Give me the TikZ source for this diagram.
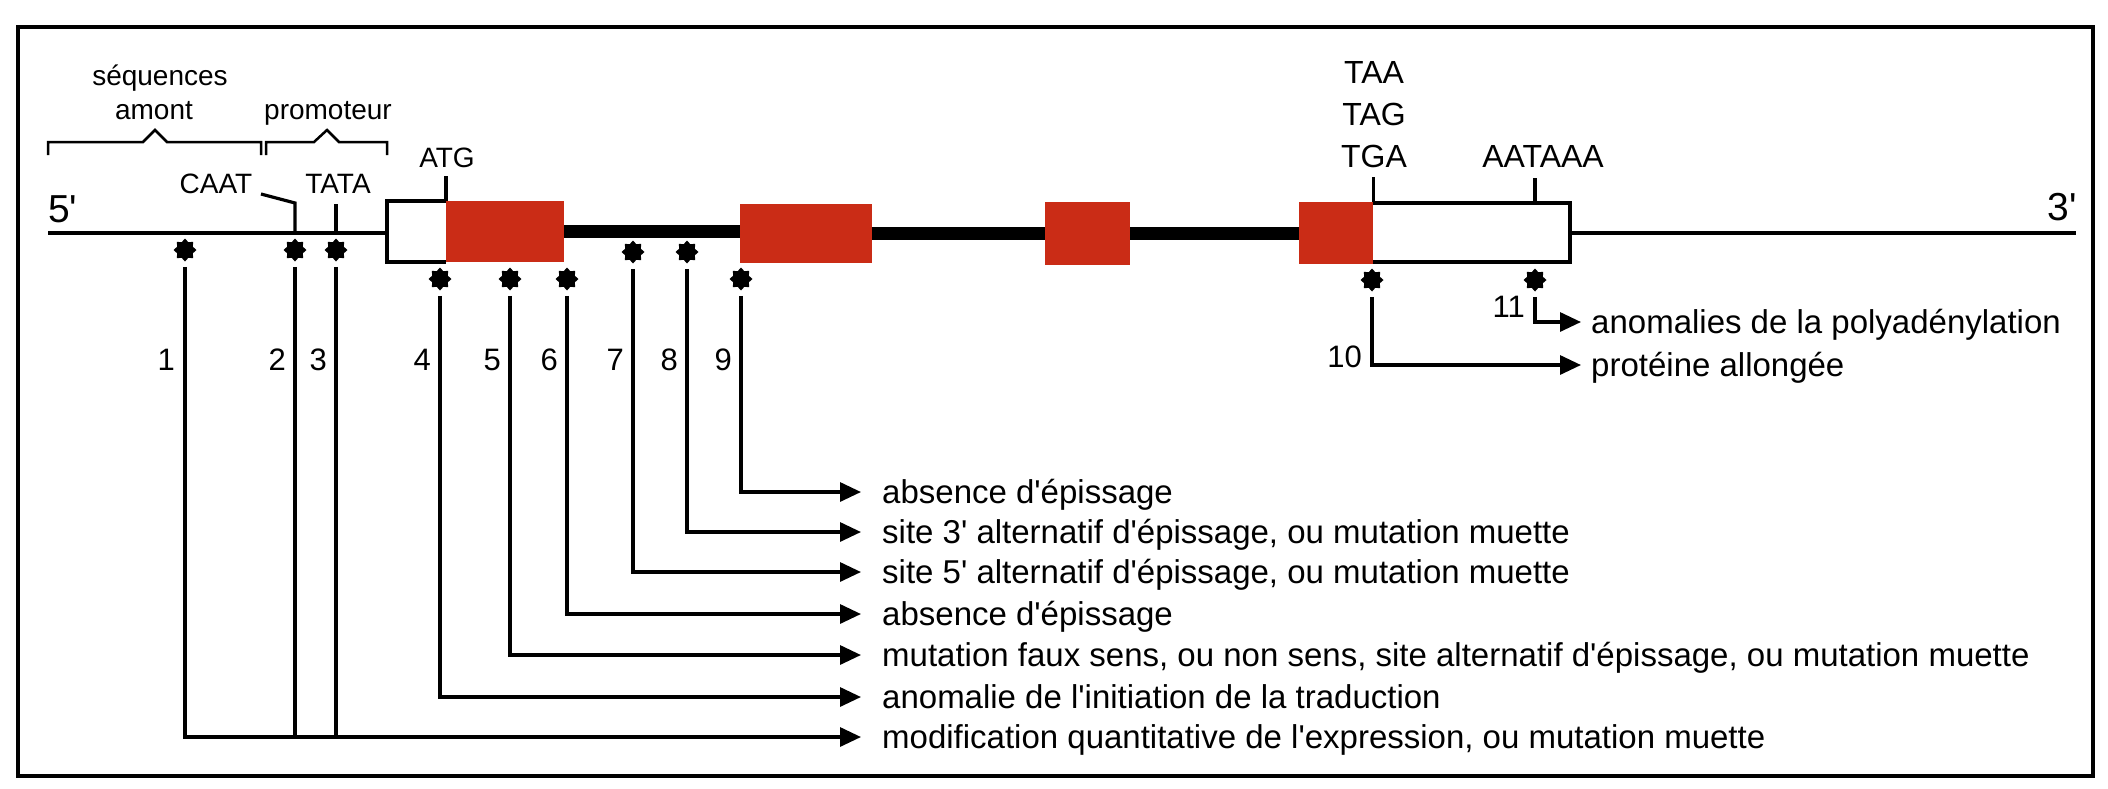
\documentclass[tikz,border=0pt]{standalone}
\usepackage{fontspec}
\setmainfont{Liberation Sans}[Ligatures=TeXOff]
\usetikzlibrary{arrows.meta,shapes.geometric}
\definecolor{exonred}{RGB}{202,44,22}
\begin{document}
\begin{tikzpicture}[x=1pt,y=-1pt,
  dna/.style={line width=4pt},
  boxline/.style={line width=4pt,line join=miter},
  intron/.style={line width=13pt},
  lead/.style={line width=3.2pt},
  arr/.style={lead,-{Triangle[length=21pt,width=19pt]}},
  exon/.style={rectangle,fill=exonred,inner sep=0pt,anchor=north west},
  utr/.style={rectangle,inner sep=0pt,anchor=north west},
  mut/.style={star,star points=8,star point ratio=1.35,minimum size=23pt,fill=black,inner sep=0pt},
  brace/.style={line width=2.5pt,line join=miter},
  labl/.style={font=\fontsize{28}{34}\selectfont,inner sep=0pt,anchor=base},
  labr/.style={font=\fontsize{32}{38}\selectfont,inner sep=0pt,anchor=base},
  num/.style={font=\fontsize{31}{37}\selectfont,inner sep=0pt,anchor=base east},
  big/.style={font=\fontsize{39}{45}\selectfont,inner sep=0pt},
  res/.style={font=\fontsize{33}{40}\selectfont,inner sep=0pt,anchor=base west}]
\useasboundingbox (0,0) rectangle (2108,788);
\fill[white] (0,0) rectangle (2108,788);
% frame
\draw[line width=3.5pt] (18,27) rectangle (2093,776);

% gene structure
\node[utr,minimum width=59pt,minimum height=61pt] (utr5) at (387,201) {};
\node[exon,minimum width=118pt,minimum height=61pt] (ex1) at (446,201) {};
\node[exon,minimum width=132pt,minimum height=59pt] (ex2) at (740,204) {};
\node[exon,minimum width=85pt,minimum height=63pt] (ex3) at (1045,202) {};
\node[exon,minimum width=74pt,minimum height=62pt] (ex4) at (1299,202) {};
\node[utr,minimum width=197pt,minimum height=59pt] (utr3) at (1373,203) {};
\coordinate (end5) at (48,233);
\coordinate (end3) at (2076,233);
\draw[dna] (end5) -- (end5 -| utr5.west);
\draw[dna] (utr3.east |- end3) -- (end3);
\draw[boxline] (utr5.north east) -- (utr5.north west) -- (utr5.south west) -- (utr5.south east);
\draw[boxline] (utr3.north west) -- (utr3.north east) -- (utr3.south east) -- (utr3.south west);
\draw[intron] (ex1.east) -- (ex1.east -| ex2.west);
\draw[intron] (ex2.east) -- (ex2.east -| ex3.west);
\draw[intron] (ex3.east) -- (ex3.east -| ex4.west);

% end labels
\node[big,anchor=base west] (p5) at (48,222) {5'};
\node[big,anchor=base east] (p3) at (2077,220) {3'};

% braces and upper labels
\draw[brace] (48,155) -- (48,142) -- (143,142) -- (155,130) -- (167,142) -- (261,142) -- (261,155);
\draw[brace] (266,155) -- (266,142) -- (314,142) -- (327,130) -- (339,142) -- (387,142) -- (387,155);
\node[labl] (seq) at (160,85) {séquences};
\node[labl] (amont) at (154,119) {amont};
\node[labl] (promo) at (328,119) {promoteur};
\node[labl] (caat) at (216,193) {CAAT};
\node[labl] (tata) at (338,193) {TATA};
\node[labl] (atg) at (447,167) {ATG};
\node[labr] (taa) at (1374,83) {TAA};
\node[labr] (tag) at (1374,125) {TAG};
\node[labr] (tga) at (1374,167) {TGA};
\node[labr] (aataaa) at (1543,167) {AATAAA};

% ticks
\coordinate (caatb) at (295,233);
\coordinate (tatab) at (336,233);
\coordinate (polya) at (1535,203);
\draw[lead,line join=miter] (caatb) -- ++(0,-30) -- ++(-34,-9);
\draw[lead] (tatab) -- ++(0,-29);
\draw[lead] (ex1.north west) -- ++(0,-25);
\draw[lead] (ex4.north east) -- ++(0,-25);
\draw[lead] (polya) -- ++(0,-25);

% mutation sites
\node[mut] (s1) at (185,250) {};
\node[mut] (s2) at (295,250) {};
\node[mut] (s3) at (336,250) {};
\node[mut] (s4) at (440,279) {};
\node[mut] (s5) at (510,279) {};
\node[mut] (s6) at (567,279) {};
\node[mut] (s7) at (633,252) {};
\node[mut] (s8) at (687,252) {};
\node[mut] (s9) at (741,279) {};
\node[mut] (s10) at (1372,280) {};
\node[mut] (s11) at (1535,280) {};

% numbers
\node[num] (n1) at (175,370) {1};
\node[num] (n2) at (286,370) {2};
\node[num] (n3) at (327,370) {3};
\node[num] (n4) at (431,370) {4};
\node[num] (n5) at (501,370) {5};
\node[num] (n6) at (558,370) {6};
\node[num] (n7) at (624,370) {7};
\node[num] (n8) at (678,370) {8};
\node[num] (n9) at (732,370) {9};
\node[num] (n10) at (1362,367) {10};
\node[num] (n11) at (1525,317) {11};

% arrow ends
\coordinate (e9) at (861,492);
\coordinate (e8) at (861,532);
\coordinate (e7) at (861,572);
\coordinate (e6) at (861,614);
\coordinate (e5) at (861,655);
\coordinate (e4) at (861,697);
\coordinate (e1) at (861,737);
\coordinate (e11) at (1581,322);
\coordinate (e10) at (1581,365);

% connectors
\draw[arr,shorten <=5pt] (s9.south) |- (e9);
\draw[arr,shorten <=5pt] (s8.south) |- (e8);
\draw[arr,shorten <=5pt] (s7.south) |- (e7);
\draw[arr,shorten <=5pt] (s6.south) |- (e6);
\draw[arr,shorten <=5pt] (s5.south) |- (e5);
\draw[arr,shorten <=5pt] (s4.south) |- (e4);
\draw[arr,shorten <=5pt] (s1.south) |- (e1);
\draw[lead,shorten <=5pt] (s2.south) -- (s2.south |- e1);
\draw[lead,shorten <=5pt] (s3.south) -- (s3.south |- e1);
\draw[arr,shorten <=5pt] (s11.south) |- (e11);
\draw[arr,shorten <=5pt] (s10.south) |- (e10);

% results
\node[res] (t9) at (882,503) {absence d'épissage};
\node[res] (t8) at (882,543) {site 3' alternatif d'épissage, ou mutation muette};
\node[res] (t7) at (882,583) {site 5' alternatif d'épissage, ou mutation muette};
\node[res] (t6) at (882,625) {absence d'épissage};
\node[res] (t5) at (882,666) {mutation faux sens, ou non sens, site alternatif d'épissage, ou mutation muette};
\node[res] (t4) at (882,708) {anomalie de l'initiation de la traduction};
\node[res] (t1) at (882,748) {modification quantitative de l'expression, ou mutation muette};
\node[res] (t11) at (1591,333) {anomalies de la polyadénylation};
\node[res] (t10) at (1591,376) {protéine allongée};
\end{tikzpicture}
\end{document}
